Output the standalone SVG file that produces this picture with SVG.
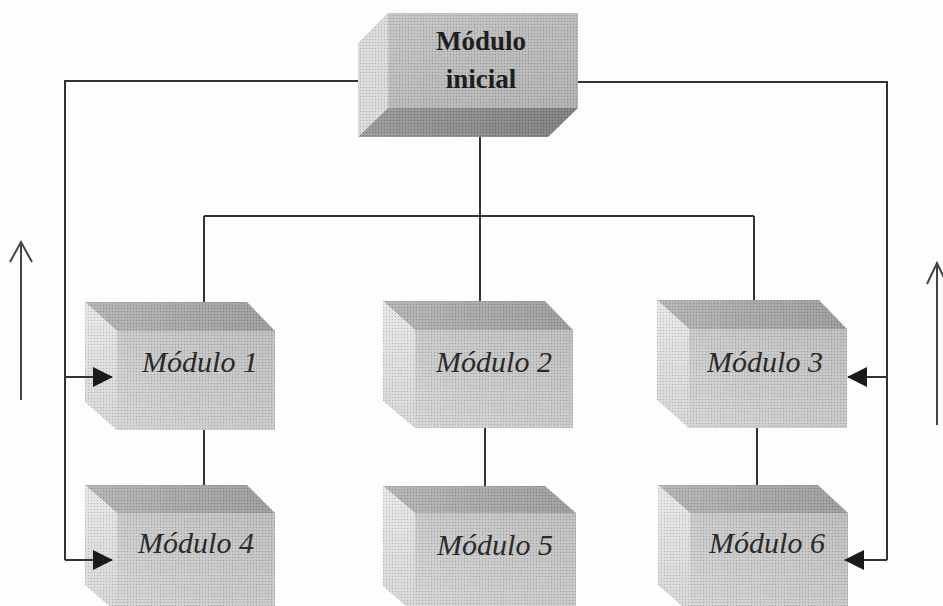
<svg xmlns="http://www.w3.org/2000/svg" width="943" height="606" viewBox="0 0 943 606">
<defs>
<pattern id="dots" width="3" height="3" patternUnits="userSpaceOnUse">
<rect x="0" y="0" width="1" height="1" fill="#000" fill-opacity="0.18"/>
<rect x="1.5" y="1.5" width="1" height="1" fill="#fff" fill-opacity="0.25"/>
</pattern>
<linearGradient id="gFront" x1="0" y1="1" x2="1" y2="0">
<stop offset="0" stop-color="#d4d4d4"/>
<stop offset="1" stop-color="#bdbdbd"/>
</linearGradient>
<linearGradient id="gTop" x1="0" y1="0" x2="1" y2="0">
<stop offset="0" stop-color="#b4b4b4"/>
<stop offset="1" stop-color="#9c9c9c"/>
</linearGradient>
<linearGradient id="gLeft" x1="0" y1="0" x2="0" y2="1">
<stop offset="0" stop-color="#e6e6e6"/>
<stop offset="1" stop-color="#d6d6d6"/>
</linearGradient>
<linearGradient id="gInitFront" x1="0" y1="0" x2="1" y2="1">
<stop offset="0" stop-color="#c4c4c4"/>
<stop offset="1" stop-color="#b0b0b0"/>
</linearGradient>
<linearGradient id="gInitBottom" x1="0" y1="0" x2="1" y2="0">
<stop offset="0" stop-color="#9a9a9a"/>
<stop offset="1" stop-color="#7e7e7e"/>
</linearGradient>
<marker id="tri" markerWidth="20" markerHeight="20" refX="19" refY="10" orient="auto" markerUnits="userSpaceOnUse">
<path d="M0,0 L20,10 L0,20 Z" fill="#1a1a1a"/>
</marker>
</defs>
<style>
.front{fill:url(#gFront)}
.top{fill:url(#gTop)}
.left{fill:url(#gLeft)}
.dot{fill:url(#dots)}
.lbl{font-family:"Liberation Serif","Times New Roman",serif;font-style:italic;font-size:30px;fill:#2a2a2a;text-anchor:middle}
.ttl{font-family:"Liberation Serif","Times New Roman",serif;font-weight:bold;font-size:27px;fill:#1e1e1e;text-anchor:middle}
.ln{stroke:#333;stroke-width:2;fill:none}
.arr{stroke:#333;stroke-width:2;fill:none;marker-end:url(#tri)}
.side{stroke:#444;stroke-width:2;fill:none;stroke-linejoin:miter}
</style>
<rect width="943" height="606" fill="#fdfdfd"/>

<g id="modulo-inicial">
<polygon points="388,13 358,43 358,137 388,108" fill="#dadada"/>
<polygon points="388,108 578,108 548,137 358,137" fill="url(#gInitBottom)"/>
<rect x="388" y="13" width="190" height="95" fill="url(#gInitFront)"/>
<polygon class="dot" points="388,13 578,13 578,108 548,137 358,137 358,43"/>
<text class="ttl" x="481" y="50">Módulo</text>
<text class="ttl" x="481" y="88">inicial</text>
</g>

<g id="modulo-1" transform="translate(85,302)">
<polygon class="top" points="0,0 162,0 190,29 32,29"/>
<polygon class="left" points="0,0 32,29 32,128 0,100"/>
<rect class="front" x="32" y="29" width="158" height="99"/>
<polygon class="dot" points="0,0 162,0 190,29 190,128 32,128 0,100"/>
<text class="lbl" x="115" y="70">Módulo 1</text>
</g>

<g id="modulo-2" transform="translate(383,301)">
<polygon class="top" points="0,0 162,0 190,29 32,29"/>
<polygon class="left" points="0,0 32,29 32,127 0,100"/>
<rect class="front" x="32" y="29" width="158" height="98"/>
<polygon class="dot" points="0,0 162,0 190,29 190,127 32,127 0,100"/>
<text class="lbl" x="111" y="71">Módulo 2</text>
</g>

<g id="modulo-3" transform="translate(657,300)">
<polygon class="top" points="0,0 162,0 190,29 32,29"/>
<polygon class="left" points="0,0 32,29 32,128 0,100"/>
<rect class="front" x="32" y="29" width="158" height="99"/>
<polygon class="dot" points="0,0 162,0 190,29 190,128 32,128 0,100"/>
<text class="lbl" x="108" y="72">Módulo 3</text>
</g>

<g id="modulo-4" transform="translate(85,485)">
<polygon class="top" points="0,0 162,0 190,28 32,28"/>
<polygon class="left" points="0,0 32,28 32,128 0,100"/>
<rect class="front" x="32" y="28" width="158" height="100"/>
<polygon class="dot" points="0,0 162,0 190,28 190,128 32,128 0,100"/>
<text class="lbl" x="111" y="68">Módulo 4</text>
</g>

<g id="modulo-5" transform="translate(383,486)">
<polygon class="top" points="0,0 162,0 193,27 32,27"/>
<polygon class="left" points="0,0 32,27 32,128 0,100"/>
<rect class="front" x="32" y="27" width="161" height="101"/>
<polygon class="dot" points="0,0 162,0 193,27 193,128 32,128 0,100"/>
<text class="lbl" x="112" y="69">Módulo 5</text>
</g>

<g id="modulo-6" transform="translate(658,485)">
<polygon class="top" points="0,0 160,0 190,28 32,28"/>
<polygon class="left" points="0,0 32,28 32,128 0,100"/>
<rect class="front" x="32" y="28" width="158" height="100"/>
<polygon class="dot" points="0,0 160,0 190,28 190,128 32,128 0,100"/>
<text class="lbl" x="109" y="68">Módulo 6</text>
</g>

<g id="connectors">
<line class="ln" x1="480" y1="137" x2="480" y2="216"/>
<line class="ln" x1="204" y1="216" x2="754" y2="216"/>
<line class="ln" x1="204" y1="216" x2="204" y2="302"/>
<line class="ln" x1="480" y1="216" x2="480" y2="301"/>
<line class="ln" x1="754" y1="216" x2="754" y2="300"/>
<line class="ln" x1="204" y1="430" x2="204" y2="485"/>
<line class="ln" x1="485" y1="428" x2="485" y2="486"/>
<line class="ln" x1="757" y1="428" x2="757" y2="485"/>
<polyline class="ln" points="358,81 65,81 65,560"/>
<line class="arr" x1="65" y1="377" x2="112" y2="377"/>
<line class="arr" x1="65" y1="560" x2="112" y2="560"/>
<polyline class="ln" points="578,82 887,82 887,560"/>
<line class="arr" x1="887" y1="377" x2="848" y2="377"/>
<line class="arr" x1="887" y1="560" x2="845" y2="560"/>
<polyline class="side" points="21,242 21,400"/>
<polyline class="side" points="10,262 21,242 32,262"/>
<polyline class="side" points="937,263 937,425"/>
<polyline class="side" points="927,284 937,263 947,284"/>
</g>
</svg>
